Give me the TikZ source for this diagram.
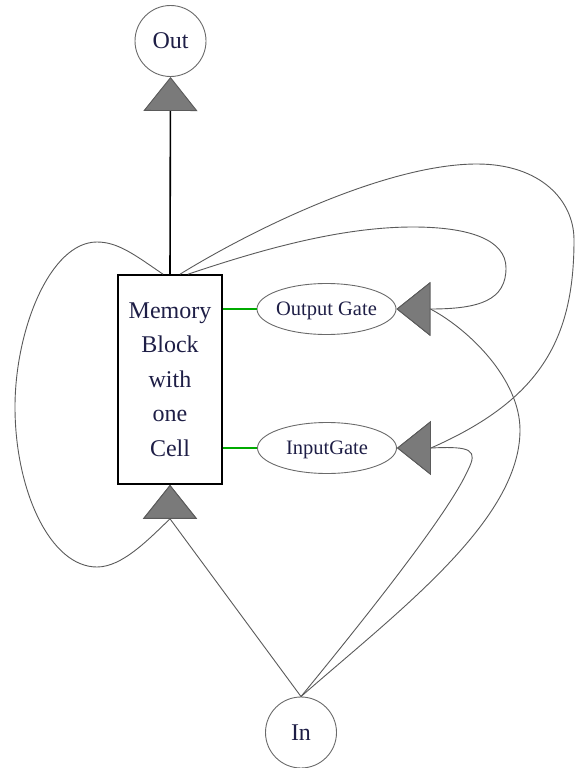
\documentclass[tikz,border=0pt]{standalone}
\usepackage{fontspec}
\setmainfont{Liberation Serif}
\usetikzlibrary{arrows.meta,shapes.geometric}
\definecolor{edgegray}{HTML}{5A5A5A}
\definecolor{tipfill}{HTML}{7A7A7A}
\definecolor{ringgray}{HTML}{6A6A6A}
\definecolor{labelink}{HTML}{1E1E46}
\definecolor{linkgreen}{HTML}{00AA00}

\begin{document}
\begin{tikzpicture}[x=1pt,y=-1pt,
  unit/.style={circle,draw=ringgray,line width=0.9pt,minimum size=71pt,inner sep=0pt,
    text=labelink,text depth=0pt,font=\fontsize{24}{28}\selectfont},
  gate/.style={ellipse,draw=ringgray,line width=0.9pt,minimum width=139pt,minimum height=51pt,
    inner xsep=-10pt,inner ysep=0pt,text=labelink,text depth=0pt,font=\fontsize{20.5}{24}\selectfont},
  block/.style={rectangle,draw=black,line width=1.6pt,minimum width=104pt,minimum height=209pt,
    inner sep=0pt,align=center,text=labelink,font=\fontsize{24}{34.5}\selectfont},
  bigtip/.style={-{Triangle[length=34pt,width=54pt,line width=0.9pt,color=edgegray,fill=tipfill]}},
  flow/.style={draw=edgegray,line width=0.9pt,bigtip},
  mainflow/.style={draw=black,line width=1.6pt,bigtip},
  peephole/.style={draw=linkgreen,line width=1.4pt}
]
\useasboundingbox (0,0) rectangle (575,768);

% nodes
\node[unit]  (out) at (170.5,41)  {Out};
\node[block] (mem) at (170,379.5) {Memory\\Block\\with\\one\\Cell};
\node[gate]  (og)  at (326.5,309) {Output Gate};
\node[gate]  (ig)  at (327,448)   {InputGate};
\node[unit]  (in)  at (301,732.5) {In};

% peephole links from the cell to the gates
\draw[peephole] (mem.east |- og.west) -- (og.west);
\draw[peephole] (mem.east |- ig.west) -- (ig.west);

% cell output
\draw[mainflow] (mem.north) -- (out.south);

% input into the cell and its recurrent self connection
\draw[flow] (in.north) -- ([yshift=-34pt]mem.south) -- (mem.south);
\draw[flow] ([xshift=-7pt]mem.north) .. controls (135,255) and (118,242) .. (97,242)
  .. controls (50,242) and (15,330) .. (15,407)
  .. controls (15,490) and (50,567) .. (97,567)
  .. controls (122,567) and (148,540) .. ([yshift=-34pt]mem.south) -- (mem.south);

% recurrent connections from the cell to the gates
\draw[flow] ([xshift=18pt]mem.north) .. controls (260,250) and (340,227) .. (413,227)
  .. controls (470,227) and (506,240) .. (506,268)
  .. controls (506,300) and (480,309) .. ([xshift=34pt]og.east) -- (og.east);
\draw[flow] ([xshift=10pt]mem.north) .. controls (260,225) and (390,164) .. (477,164)
  .. controls (540,164) and (574,200) .. (574,240)
  .. controls (574,340) and (540,400) .. ([xshift=34pt]ig.east) -- (ig.east);

% network input into the gates
\draw[flow] (in.north) .. controls (400,610) and (520,520) .. (520,430)
  .. controls (520,380) and (470,330) .. ([xshift=34pt]og.east) -- (og.east);
\draw[flow] (in.north) .. controls (380,600) and (450,510) .. (468,470)
  .. controls (478,450) and (472,446) .. ([xshift=34pt]ig.east) -- (ig.east);
\end{tikzpicture}
\end{document}
